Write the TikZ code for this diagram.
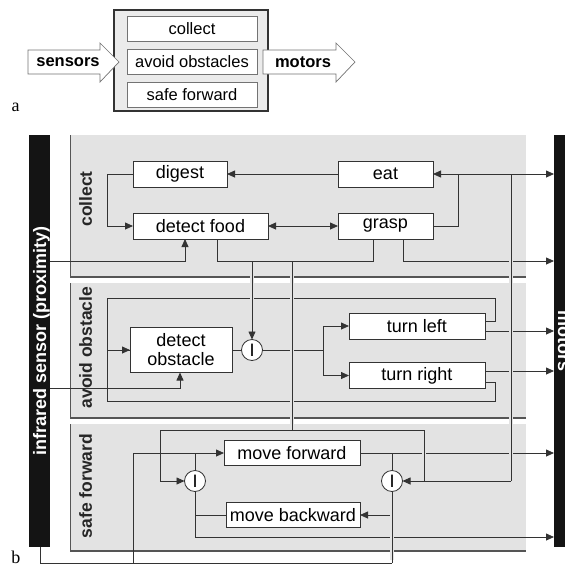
\documentclass[tikz,border=0pt]{standalone}
\usepackage{fontspec}
\setmainfont{Liberation Sans}
\newfontfamily\captionserif{Liberation Serif}
\usetikzlibrary{arrows.meta}

\definecolor{panelfill}{HTML}{E3E3E3}
\definecolor{framefill}{HTML}{EBEBEB}
\definecolor{ink}{HTML}{333333}
\definecolor{edge}{HTML}{555555}
\definecolor{barblack}{HTML}{141414}

\begin{document}
\begin{tikzpicture}[x=1pt, y=-1pt, >={Triangle[length=8pt,width=7pt]},
  every node/.style={inner sep=0pt, outer sep=0pt},
  wire/.style={draw=ink, line width=0.8pt},
  feed/.style={wire, ->},
  over/.style={preaction={draw=panelfill, -, line width=4pt, shorten <=3pt, shorten >=3pt}},
  paneledge/.style={draw=edge, line width=1.1pt},
  unit/.style={draw=ink, fill=white, line width=0.8pt, font=\fontsize{18}{19}\selectfont, align=center},
  inhibit/.style={circle, draw=ink, fill=white, line width=0.8pt, minimum size=21pt, font=\fontsize{18}{18}\selectfont},
  lane/.style={rotate=90, anchor=base, font=\bfseries\fontsize{17.5}{18}\selectfont, text=black!85},
  bar/.style={fill=barblack},
  bartext/.style={anchor=base, text=white, font=\bfseries\fontsize{18}{18}\selectfont},
  layer/.style={draw=black!55, fill=white, line width=0.7pt, minimum width=130pt, minimum height=25pt, font=\fontsize{16.5}{17}\selectfont},
  bigarrow/.style={draw=black!55, fill=white, line width=0.7pt},
  arrowlabel/.style={font=\bfseries\fontsize{16.5}{17}\selectfont},
  tag/.style={font=\captionserif\fontsize{18}{18}\selectfont},
]
\useasboundingbox (0,0) rectangle (565,566);
\clip (0,0) rectangle (565,566);

% ---------- (a) layered controller ----------
\node[draw=ink, line width=1.4pt, fill=framefill, minimum width=154pt, minimum height=101pt] (arch) at (191,60.5) {};
\node[layer] (lcol) at (192,29) {collect};
\node[layer] (lavo) at (192,61.5) {avoid obstacles};
\node[layer] (lsaf) at (192,94.5) {safe forward};
\draw[bigarrow] (28,50) -- (100,50) -- (100,43) -- (119,62) -- (100,82) -- (100,74) -- (28,74) -- cycle;
\node[arrowlabel] (sens) at (68,62) {sensors};
\draw[bigarrow] (263,50) -- (336,50) -- (336,43) -- (355,62) -- (336,82) -- (336,74) -- (263,74) -- cycle;
\node[arrowlabel] (mot) at (303,62) {motors};
\node[tag] (tagA) at (15.5,107) {a};

% ---------- (b) layer panels ----------
\fill[panelfill] (70,135) rectangle (526,277);
\draw[paneledge] (70.5,135) -- (70.5,277) -- (526,277);
\fill[panelfill] (70,283) rectangle (526,418);
\draw[paneledge] (70.5,283) -- (70.5,418) -- (526,418);
\fill[panelfill] (70,424) rectangle (526,551);
\draw[paneledge] (70.5,424) -- (70.5,551) -- (526,551);

\node[lane] (lanecol) at (92,199) {collect};
\node[lane] (laneavo) at (92,347.5) {avoid obstacle};
\node[lane] (lanesaf) at (92,486) {safe forward};

% sensor and motor bars
\node[bar, minimum width=21pt, minimum height=412pt] (irbar) at (39,341) {};
\node[bartext, rotate=90] (irtext) at (46,341) {infrared sensor (proximity)};
\node[bar, minimum width=22pt, minimum height=412pt] (motbar) at (565,341) {};
\node[bartext, rotate=-90] (mottext) at (558,341) {motors};
\node[tag] (tagB) at (16,557) {b};

% behaviour modules
\node[unit, minimum width=94pt, minimum height=26pt] (digest) at (180,174) {digest};
\node[unit, minimum width=95pt, minimum height=26pt] (eat) at (385.5,174) {eat};
\node[unit, minimum width=135pt, minimum height=26pt] (food) at (200.5,226) {detect food};
\node[unit, minimum width=95pt, minimum height=26pt] (grasp) at (385.5,226) {grasp};
\node[unit, minimum width=102pt, minimum height=45pt] (obst) at (181,350) {detect\\obstacle};
\node[inhibit] (c1) at (252,350) {I};
\node[unit, minimum width=136pt, minimum height=26pt] (tleft) at (417,326) {turn left};
\node[unit, minimum width=136pt, minimum height=26pt] (tright) at (417,375.5) {turn right};
\node[unit, minimum width=136pt, minimum height=25pt] (fwd) at (292,453) {move forward};
\node[unit, minimum width=134pt, minimum height=25pt] (bwd) at (293,515) {move backward};
\node[inhibit] (cL) at (195,481) {I};
\node[inhibit] (cR) at (392,481) {I};

% ---------- collect ----------
\draw[feed] (eat.west) -- (digest.east);
\draw[feed] (digest.west) -- ++(-26,0) |- (food.west);
\draw[wire, <->] (food.east) -- (grasp.west);
\coordinate (sFood) at (185,261);
\draw[feed] (irbar.east |- sFood) -- (sFood) -- (sFood |- food.south);
\coordinate (fA) at (217,261);
\coordinate (fB) at (373,261);
\draw[wire] (fA |- food.south) -- (fA) -- (fB) -- (fB |- grasp.south);
\draw[feed] (grasp.east) -- ++(25,0) |- (eat.east);
\coordinate (eatOut) at (458,174);
\draw[feed] (eatOut) -- (motbar.west |- eatOut);
\coordinate (gOut) at (403,261);
\draw[feed] (gOut |- grasp.south) -- (gOut) -- (motbar.west |- gOut);

% ---------- avoid obstacle ----------
\draw[wire] (obst.east) -- (c1.west);
\coordinate (split) at (323,350);
\draw[wire] (c1.east) -- (split);
\draw[feed] (split) |- (tleft.west);
\draw[feed] (split) |- (tright.west);
\draw[feed] ([yshift=5pt]tleft.east) -- ++(10,0) |- (107,298) |- (obst.west);
\draw[wire] ([yshift=-6.5pt]tright.east) -- ++(10,0) |- (107,401) |- (obst.west);
\path ([yshift=-5pt]tleft.east) coordinate (tlOut) ([yshift=4.5pt]tright.east) coordinate (trOut);
\draw[feed] (tlOut) -- (motbar.west |- tlOut);
\draw[feed] (trOut) -- (motbar.west |- trOut);
\coordinate (sObst) at (180,388);
\draw[feed] (irbar.east |- sObst) -- (sObst) -- (sObst |- obst.south);

% ---------- safe forward ----------
\coordinate (bLow) at (40,563);
\draw[wire] (irbar.south -| bLow) -- (bLow) -- (cR |- bLow);
\coordinate (sFwd) at (133,453);
\draw[feed] (sFwd |- bLow) -- (sFwd) -- (fwd.west);
\draw[wire] (cL |- fwd.west) -- (cL.north);
\coordinate (cLout) at (195,537);
\draw[feed] (cL.south) -- (cLout) -- (motbar.west |- cLout);
\draw[wire] (bwd.west) -- (cL |- bwd.west);
\draw[feed] (fwd.east) -- (motbar.west |- fwd.east);
\draw[wire] (cR |- fwd.east) -- (cR.north);
\draw[feed] (cR |- bwd.east) -- (bwd.east);
\coordinate (iL) at (160,430);
\coordinate (iR) at (424,430);
\draw[wire] (iL) -- (iR);
\draw[feed] (iL) |- (cL.west);
\coordinate (eatTap) at (511,174);
\draw[feed] (eatTap |- cR) -- (cR.east);

% vertical runs drawn last, leaving small gaps in the lines they cross
\draw[wire, over] (cR |- bLow) -- (cR.south);
\draw[wire, over] (iR) -- (iR |- cR);
\draw[wire, over] (eatTap) -- (eatTap |- cR);
\draw[feed, over] (c1 |- fA) -- (c1.north);
\coordinate (gDrop) at (292,430);
\draw[wire, over] (gDrop |- fA) -- (gDrop);
\end{tikzpicture}
\end{document}
